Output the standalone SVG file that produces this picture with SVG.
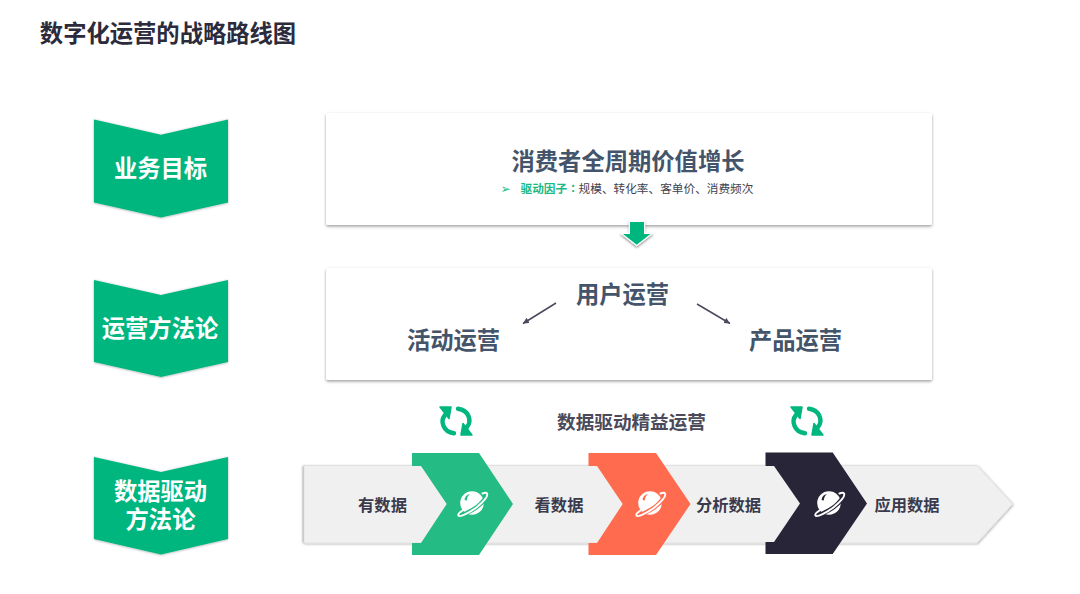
<svg xmlns="http://www.w3.org/2000/svg" width="1080" height="594" viewBox="0 0 1080 594">
<style>
text{font-family:"Noto Sans CJK SC","Noto Sans",sans-serif;font-weight:700;text-anchor:middle}
.l{fill:#fff;font-size:23.3px}
.h{fill:#44546a;font-size:23.3px}
.s{fill:#3a3a4c;font-size:16.3px}
.g{fill:#00b67f}
.card{fill:#fff;filter:url(#cs)}
.ring{fill:none;stroke-linecap:round}
</style>
<defs>
<filter id="cs" x="-5%" y="-10%" width="110%" height="120%"><feDropShadow dx="0" dy="1.5" stdDeviation="1.8" flood-color="#000" flood-opacity=".38"/></filter>
<filter id="ps" x="-10%" y="-10%" width="120%" height="120%"><feDropShadow dx="0" dy="0.5" stdDeviation="0.8" flood-color="#000" flood-opacity=".35"/></filter>
<filter id="bs" x="-3%" y="-10%" width="106%" height="120%"><feDropShadow dx="0.8" dy="0.8" stdDeviation="1" flood-color="#000" flood-opacity=".3"/></filter>
<filter id="bl" x="-300%" y="-5%" width="700%" height="110%"><feGaussianBlur stdDeviation="1"/></filter>
<filter id="as" x="-30%" y="-30%" width="160%" height="160%"><feDropShadow dx="0" dy="1.500" stdDeviation="0.8" flood-color="#000" flood-opacity=".45"/></filter>
<marker id="ah" markerWidth="8" markerHeight="8" refX="6" refY="3" orient="auto" markerUnits="userSpaceOnUse"><path d="M0 0L6 3L0 6Z" fill="#4a4a5e"/></marker>
<g id="planet">
<circle r="11.800" fill="#fff"/>
<path d="M-7.500-3Q-7-8-2-9Q-5-7-5.200-2.500Z" fill="currentColor"/>
<path d="M-13 11.500C-12 13.500-2 9 5 4C11-1 16-7 14.500-9.500" fill="none" stroke="currentColor" stroke-width="4.200"/>
<path class="ring" d="M-9.500 7.500C-12.500 9.500-14.500 11-13.500 12.500C-12.500 14.500-2 9.500 5 4C11-1 16.500-7 15-9.500C14.300-10.700 12.500-10.400 10.500-9.500" stroke="#fff" stroke-width="2"/>
</g>
<g id="sync" fill="none">
<path d="M-11-6C-16 0-13 11-2 12.300" stroke="#00b67f" stroke-width="4.400" stroke-linecap="round"/>
<path d="M11 6C16 0 13-11 2-12.300" stroke="#00b67f" stroke-width="4.400" stroke-linecap="round"/>
<path d="M-16-14H-5L-7-2.500Z" fill="#00b67f" stroke="#00b67f" stroke-width="1.500" stroke-linejoin="round"/>
<path d="M16 14H5L7 2.500Z" fill="#00b67f" stroke="#00b67f" stroke-width="1.500" stroke-linejoin="round"/>
</g>
</defs>
<rect width="1080" height="594" fill="#fff"/>
<text id="title" x="168" y="42" style="fill:#2b2b3b;font-size:23.3px">数字化运营的战略路线图</text>

<g id="label-1"><path class="g" filter="url(#ps)" d="M94 119.500L161 134.700L228 119.500V202.500L161 217.500L94 202.500Z"/><text class="l" x="160.500" y="177">业务目标</text></g>
<g id="label-2"><path class="g" filter="url(#ps)" d="M94 280L161 295L228 280V362L161 377L94 362Z"/><text class="l" x="160" y="337">运营方法论</text></g>
<g id="label-3"><path class="g" filter="url(#ps)" d="M94 457L161 472L228 457V539L161 554.500L94 539Z"/><text class="l"><tspan x="160.500" y="500">数据驱动</tspan><tspan x="160.500" y="528">方法论</tspan></text></g>

<g id="card-goal"><rect class="card" x="326" y="113" width="606" height="112" rx="2"/>
<text class="h" x="628" y="170">消费者全周期价值增长</text>
<text x="505.500" y="193" style="font-family:'DejaVu Sans',sans-serif;font-size:12px;font-weight:400;fill:#1cc08c">➢</text>
<text x="549.700" y="193" style="font-size:11.670px;fill:#1cb985">驱动因子<tspan style="font-family:'Noto Sans CJK TC',sans-serif">：</tspan></text>
<text x="666" y="193" style="font-size:11.670px;font-weight:400;fill:#3f3f4f">规模、转化率、客单价、消费频次</text></g>

<g id="down-arrow"><path class="g" filter="url(#as)" stroke="#fff" stroke-width="2.400" paint-order="stroke" d="M630 222H644V234H650.500L636.700 244.700L623 234H630Z"/></g>

<g id="card-method"><rect class="card" x="326" y="268" width="606" height="112" rx="2"/>
<text class="h" x="622.500" y="303">用户运营</text>
<text class="h" x="453.500" y="349">活动运营</text>
<text class="h" x="795.500" y="349">产品运营</text></g>

<g id="connectors" fill="none" stroke="#4a4a5e" stroke-width="1.500">
<path d="M556 303L523 323.500" marker-end="url(#ah)"/>
<path d="M697 304L730 323.500" marker-end="url(#ah)"/>
</g>

<text id="band-title" x="631.500" y="429" style="fill:#4a4a5a;font-size:18.600px">数据驱动精益运营</text>
<use id="sync-1" href="#sync" x="456" y="421"/>
<use id="sync-2" href="#sync" x="807" y="421"/>

<g id="band"><rect x="302.800" y="466" width="2" height="77" fill="#9a9a9a" filter="url(#bl)"/><path filter="url(#bs)" fill="#f0f0f0" stroke="#dedede" stroke-width=".8" d="M304 465.500H977L1012.500 504L977 543H304Z"/></g>
<g id="step-1"><text class="s" x="382.500" y="511">有数据</text></g>
<g id="step-2"><text class="s" x="559" y="511">看数据</text></g>
<g id="step-3"><text class="s" x="728.500" y="511">分析数据</text></g>
<g id="step-4"><text class="s" x="907" y="511">应用数据</text></g>

<g id="chevron-1" style="color:#24bb84"><path fill="#24bb84" d="M412 453H479L513 504L479 555H412V543H421L446.700 504L421 466H412Z"/><use href="#planet" x="472" y="503"/></g>
<g id="chevron-2" style="color:#ff6b4e"><path fill="#ff6b4e" d="M588.500 453H656L690.500 504L656 555H588.500V543H597L622.700 504L597 466H588.500Z"/><use href="#planet" x="650" y="503"/></g>
<g id="chevron-3" style="color:#272537"><path fill="#272537" d="M765.500 452.500H832.700L867 503.500L832.700 554H765.500V542H774L800 503.500L774 466H765.500Z"/><use href="#planet" x="829" y="503"/></g>
</svg>
